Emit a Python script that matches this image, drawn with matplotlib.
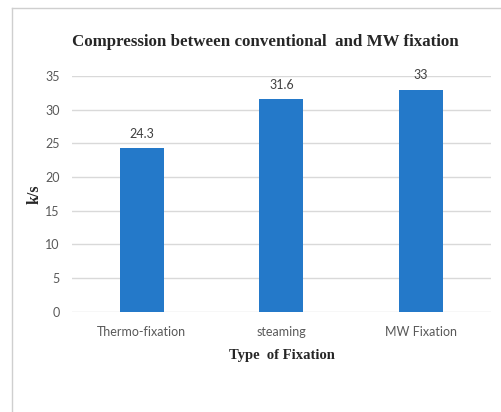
import matplotlib
matplotlib.use("Agg")
import matplotlib.pyplot as plt
from matplotlib.lines import Line2D

# Data
categories = ["Thermo-fixation", "steaming", "MW Fixation"]
values = [24.3, 31.6, 33]
yticks = [0, 5, 10, 15, 20, 25, 30, 35]

bar_color = "#2479C9"
grid_color = "#D9D9D9"
text_gray = "#595959"
serif = ["Liberation Serif", "DejaVu Serif"]
sans = ["Lato", "DejaVu Sans"]

fig = plt.figure(figsize=(5.02, 4.12), dpi=100)
ax = fig.add_axes([0.1434, 0.2434, 0.8347, 0.572])

x = list(range(len(categories)))
bars = ax.bar(x, values, width=0.315, color=bar_color, zorder=3)

ax.set_xlim(-0.5, len(categories) - 0.5)
ax.set_ylim(0, 35)
ax.set_yticks(yticks)
ax.set_xticks(x)
ax.set_xticklabels(categories, family=sans, fontsize=9, color=text_gray)
ax.set_yticklabels([str(t) for t in yticks], family=sans, fontsize=9, color=text_gray)
ax.tick_params(length=0, pad=9)
ax.tick_params(axis="x", pad=10)

ax.grid(axis="y", color=grid_color, linewidth=1, zorder=0)
for s in ax.spines.values():
    s.set_visible(False)

# value labels above the bars
for b in bars:
    h = b.get_height()
    ax.annotate(f"{h:g}", (b.get_x() + b.get_width() / 2, h),
                xytext=(0, 6), textcoords="offset points",
                ha="center", va="bottom", family=sans, fontsize=9, color="#404040")

ax.set_xlabel("Type  of Fixation", family=serif, fontweight="bold", fontsize=10.5,
              color="#262626", labelpad=8)
ax.set_ylabel("k/s", family=serif, fontweight="bold", fontsize=11.5,
              color="#262626", labelpad=2)

fig.text(0.528, 0.897, "Compression between conventional  and MW fixation",
         ha="center", va="center", family=serif, fontweight="bold",
         fontsize=12.2, color="#262626")

# light frame around the chart area (left and top edges visible)
fig.add_artist(Line2D([0.024, 0.024], [0, 0.9806], color="#CFCFCF", linewidth=1))
fig.add_artist(Line2D([0.024, 1.0], [0.9806, 0.9806], color="#CFCFCF", linewidth=1))

fig.savefig("out.png", dpi=100)
